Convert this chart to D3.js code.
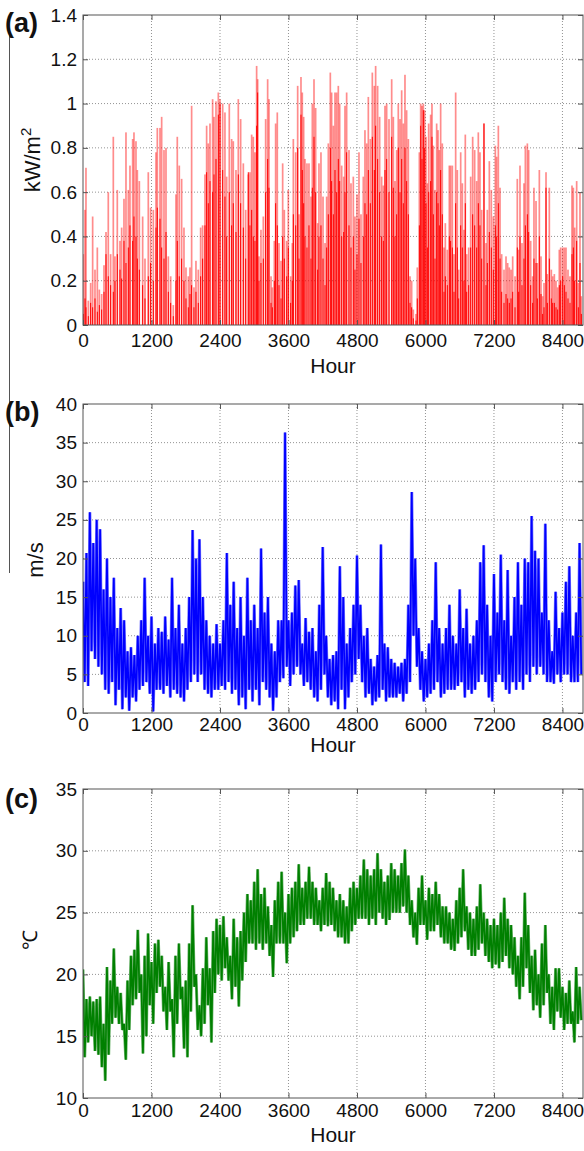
<!DOCTYPE html>
<html><head><meta charset="utf-8">
<script src="https://cdn.jsdelivr.net/npm/d3@7"></script>
<style>body{margin:0;background:#fff}svg{display:block}</style>
</head><body>
<svg id="chart" width="584" height="1151"></svg>
<script>
// ---------------- data ----------------
const xTicks = [0, 1200, 2400, 3600, 4800, 6000, 7200, 8400];
const solarTicks = [0, 0.2, 0.4, 0.6, 0.8, 1, 1.2, 1.4];
const windTicks = [0, 5, 10, 15, 20, 25, 30, 35, 40];
const tempTicks = [10, 15, 20, 25, 30, 35];

// (a) solar irradiance: hour of each daily spike, highest scenario (light) and typical (dark)
const solarHour = [5,35,52,93,134,169,210,251,286,327,368,403,443,484,531,560,601,648,677,718,753,794,823,870,893,928,952,987,1045,1086,1144,1185,1232,1279,1302,1349,1378,1419,1454,1495,1536,1582,1629,1652,1687,1728,1769,1804,1845,1874,1903,1944,1979,2020,2061,2096,2137,2166,2195,2225,2271,2295,2330,2371,2400,2447,2487,2517,2563,2604,2633,2680,2721,2762,2809,2850,2896,
 2925,2955,2984,3013,3042,3060,3083,3118,3159,3200,3235,3258,3294,3317,3352,3375,3404,3434,3469,3498,3527,3568,3597,3638,3667,3685,3726,3761,3784,3819,3842,3866,3889,3924,3959,3994,4018,4047,4076,4111,4134,4169,4205,4240,4269,4298,4333,4356,4386,4415,4444,4473,4497,4532,4567,4590,4619,4660,4695,4736,4765,4800,4835,4870,4911,4940,4970,4999,5034,5069,5104,5127,5162,5197,5232,5262,5291,5320,5361,5408,5437,5466,5495,5524,5554,5583,5612,5641,5670,5700,5729,5758,5787,
 5834,5857,5893,5916,5939,5963,5986,6009,6033,6056,6091,6114,6138,6167,6196,6220,6243,6266,6295,6325,6348,6383,6418,6441,6471,6500,6529,6558,6582,6617,6646,6675,6698,6722,6757,6792,6827,6862,6897,6926,6955,6985,7025,7061,7084,7119,7154,7189,7224,7247,7277,7306,7335,7376,7411,7440,7469,7499,7528,7569,7609,7633,7656,7691,7726,7750,7785,7808,7843,7878,7901,7937,7960,7995,8024,8053,8077,8112,8135,8170,8205,8229,8258,8287,8316,8345,8369,8404,8433,8462,8497,8532,8567,8591,8614,8649,8678,8707,8731];
const solarMax = [0.32,0.52,0.71,0.11,0.19,0.49,0.25,0.35,0.16,0.14,0.27,0.42,0.60,0.32,0.85,0.31,0.61,0.38,0.44,0.57,0.87,0.61,0.72,0.84,0.87,0.83,0.70,0.65,0.49,0.30,0.69,0.53,0.52,0.78,0.89,0.89,0.94,0.79,0.80,0.31,0.22,0.09,0.59,0.85,0.72,0.66,0.44,0.26,0.22,0.26,0.99,0.17,0.29,0.25,0.44,0.45,0.68,0.90,0.82,0.91,1.02,0.94,1.01,1.05,1.02,1.0,0.96,0.67,1.0,0.84,0.83,0.70,1.02,0.93,0.73,0.52,0.68,
 0.69,0.86,0.85,0.78,1.17,1.11,0.31,0.43,0.49,0.93,1.11,1.02,0.22,0.17,0.38,0.91,0.96,0.37,0.29,0.73,0.52,0.38,0.61,0.22,0.37,0.84,0.78,1.08,0.50,1.12,1.05,0.94,0.75,0.73,0.73,0.58,1.0,1.11,0.98,0.46,0.73,0.78,0.58,0.37,0.58,0.82,1.14,1.05,0.90,1.05,1.05,1.08,1.0,0.72,0.67,0.99,1.05,0.79,0.64,0.67,0.49,0.59,0.78,0.50,0.67,0.88,0.82,1.03,0.84,1.14,1.08,1.17,1.08,0.94,0.67,0.63,0.99,1.0,0.93,1.11,0.94,0.65,0.79,1.0,0.93,1.06,0.91,1.13,0.97,0.84,0.22,0.20,0.07,
 0.05,0.26,0.78,1.0,0.99,1.0,0.97,0.85,0.64,0.91,0.95,1.0,0.81,0.61,0.91,0.88,0.79,1.0,0.82,0.35,0.46,0.34,0.72,0.72,0.72,0.32,1.05,0.70,0.25,0.78,0.64,0.43,0.86,0.32,0.35,0.67,0.85,0.79,0.65,0.87,0.78,0.52,0.91,0.37,0.52,0.74,0.61,0.49,0.81,0.76,0.90,0.62,0.32,0.25,0.31,0.28,0.26,0.25,0.31,0.22,0.66,0.34,0.72,0.37,0.64,0.81,0.82,0.79,0.38,0.22,0.62,0.56,0.28,0.70,0.31,0.13,0.19,0.69,0.23,0.62,0.25,0.22,0.23,0.20,0.17,0.34,0.35,0.35,0.35,0.35,0.25,0.22,0.63,0.62,0.44,0.65,0.19,0.60,0.13];
const solarTyp = [0.05,0.12,0.08,0.04,0.10,0.08,0.12,0.06,0.09,0.07,0.15,0.32,0.22,0.18,0.15,0.20,0.32,0.25,0.21,0.38,0.28,0.35,0.45,0.38,0.49,0.40,0.30,0.25,0.18,0.12,0.22,0.28,0.20,0.44,0.53,0.48,0.35,0.30,0.42,0.15,0.10,0.04,0.20,0.38,0.22,0.30,0.20,0.12,0.08,0.14,0.18,0.08,0.15,0.10,0.22,0.30,0.45,0.69,0.55,0.65,0.60,0.68,0.75,0.95,1.0,0.70,0.58,0.40,0.60,0.45,0.55,0.42,0.68,0.55,0.44,0.30,0.69,
 0.45,0.52,0.40,0.38,0.90,1.05,0.20,0.28,0.30,0.60,0.75,0.62,0.10,0.08,0.20,0.55,0.45,0.18,0.12,0.40,0.30,0.22,0.35,0.10,0.20,0.50,0.45,0.80,0.30,0.95,0.70,0.55,0.40,0.35,0.45,0.30,0.62,0.85,0.60,0.25,0.40,0.45,0.30,0.18,0.35,0.50,0.80,0.65,0.50,0.70,0.60,0.75,0.65,0.40,0.42,0.60,0.78,0.45,0.35,0.40,0.25,0.32,0.48,0.28,0.40,0.55,0.50,0.70,0.55,0.85,0.70,0.90,0.75,0.60,0.40,0.38,0.70,0.75,0.60,0.85,0.62,0.40,0.50,0.80,0.60,0.75,0.55,0.80,0.65,0.50,0.10,0.08,0.03,
 0.02,0.12,0.45,0.90,0.75,0.97,0.80,0.55,0.35,0.60,0.65,0.85,0.50,0.30,0.60,0.55,0.45,0.70,0.50,0.15,0.22,0.18,0.40,0.38,0.35,0.15,0.55,0.35,0.12,0.45,0.35,0.20,0.55,0.15,0.18,0.35,0.50,0.45,0.35,0.55,0.45,0.30,0.91,0.18,0.28,0.42,0.35,0.25,0.45,0.40,0.55,0.30,0.15,0.10,0.14,0.12,0.10,0.12,0.15,0.08,0.35,0.15,0.40,0.18,0.30,0.45,0.50,0.42,0.18,0.10,0.30,0.28,0.12,0.40,0.14,0.05,0.08,0.62,0.10,0.30,0.12,0.10,0.10,0.08,0.07,0.18,0.20,0.22,0.18,0.15,0.12,0.10,0.32,0.35,0.20,0.38,0.08,0.28,0.05];

// (b) wind speed, sampled every 60 h: local high then local low
const windStep = 60;
const windHigh = [17,20.7,26,22,25,23.8,16,20,15,17.5,11,13.6,12,8,8.5,7.5,10,12,17.5,10,12.5,9,11,10.5,12.5,9.5,17.5,11,14,9,11,15,23.7,20,22.5,15,12,10,9,11.5,9,12,20.7,14,17,11,15,10,17.5,12,14,11,21.3,13,15,9,8,12,12,36.3,12,13,16.5,17.2,9,12.3,10.5,11,8,14,21.5,10,7,7.5,8,19,15,9,11,14,20.4,14,10,11,7,6,7.5,21.8,9,8.5,7,6.5,6,6.5,7,14,28.6,20,11,8,7,9,12,19.5,11,9,11,14,10,9,16,11,13.5,9,10,12,19.5,21.7,14,10,18,13,20.5,12,18.5,10,15,19.5,14,20,19.5,25.5,21,20,13,24.5,12,8,15.7,11,13,17,19,10,13,22];
const windLow = [4,3.5,8,7,6,5,3,2.5,4,1,3,0.5,2,0.3,2,1.5,3,3.5,4,2.5,0.2,3,3,2.5,3.5,2,3,2.5,2,1.5,3,4,5,4,5,3,2.5,2,3,3,3.5,3,4,2.5,3,1,2,0.5,3,1.5,3,1,4,3,2,0.3,2,4,4.5,6,3.5,5,6,5,3.5,4,3,2,1.5,3,5,2,1,1.5,0.5,3,0.5,2,4,5,7,4,2,2.5,1,1.5,2,3,1.5,2,2,2,2.5,1.5,2.5,4,10,6,3,1.5,2,2.5,3,4,2,2.5,3,3,3,3.5,4,2,3,2.5,3,4,5,4,2,1.5,4,5,4,3,2.5,4,3,4,3,5,4,6,5,6,5,4,4,3.8,5,4,5,5,4,4,4,5];

// (c) temperature, sampled every 60 h: local high then local low
const tempStep = 60;
const tempHigh = [20.4,18,18.2,17.8,18,18.2,16,20.6,19.5,22.1,19,18.5,16,19.5,21.5,22,23.6,20,21.5,23.3,21,22.5,22.8,21.5,19,21,18,21.5,22.5,19,19.5,22.5,25.6,20,17.5,20.5,23,20.5,23.5,24.5,24,24.7,23,21.5,24.5,23,23.5,25,26.5,26,27.5,28.5,26.5,27,25.5,24,26,27.5,28.3,25,26.5,27,27.5,28.9,27,27.5,28.7,27.5,27,26,27,28.2,27.5,27,26,26.5,26,25.5,27,27.5,27,28,29.3,28.5,28,28.5,29.8,28.5,27.5,28,29,28.5,28,29,30.1,28,26,25,27,28,26,27,26.5,27.5,26.5,25.5,25.5,25,24.5,26,27,28.5,25.5,25,24.5,25.5,27.3,25,24.5,24,24.5,24,25,26.2,24.5,24,23,21.5,23,26.6,24,21.5,22,20,22.5,24,20,19,20.5,20.5,19,18.5,19.5,17,20.6,19];
const tempLow = [13.3,14.5,15,13.8,13.5,12.5,11.4,13.5,16,16.5,16,15.5,13.1,15.5,17.5,18,18.5,13.6,15,17.5,16,18.5,19,17,15.5,17,13.3,16,18,14,13.3,17,19,15.5,15,16,17.5,14.5,18.5,20,19.5,20.5,19.5,18,19,17.4,19.5,21,22.5,22.5,22,22.5,22,22.5,21.5,19.8,22.5,22.5,22.5,20.9,22.5,23,23.5,24,24,24.5,24.5,24,24,23.5,24,23.9,24,23.5,23,23,22.5,22.5,23.5,24,24.5,24.5,24.5,24,24.5,24,25,24.5,24,24.4,25,25,25,25.5,25,24,23,22.4,24,24,22.8,23.5,23.5,24,23,22.5,22.5,22,21.9,22.5,23,23.5,22,21.5,21.5,22,22.5,21.5,21,20.5,20.8,20.5,21,21.5,20.5,20,19,18,19,20.5,18.5,17.1,17.5,16.5,17.5,18.5,16,15.5,17,16.5,15.5,16,16,14.5,16,16.3];

// ---------------- drawing ----------------
const svg = d3.select('#chart');
const FONT = '"Liberation Sans", Arial, Helvetica, sans-serif';
const plotLeft = 83, plotRight = 583;
const x = d3.scaleLinear().domain([0, 8760]).range([plotLeft, plotRight]);

// stray vertical rule on the far left of the figure
svg.append('line').attr('x1', 9.5).attr('x2', 9.5).attr('y1', 33).attr('y2', 573)
  .attr('stroke', '#555').attr('stroke-width', 1);

function zigzag(high, low, step) {
  const pts = [];
  high.forEach((v, i) => { pts.push([i * step, v]); pts.push([i * step + step / 2, low[i]]); });
  return pts;
}

const panels = [
  { key: 'a', top: 15, bottom: 325, domain: [0, 1.4], ticks: solarTicks, tickBase: 347, hourBase: 373,
    ylab: { x: 40, y: 160 }, letterY: 32,
    draw(g, y) {
      const bw = 1.7;
      g.selectAll('rect.max').data(solarHour).join('rect')
        .attr('x', (d) => x(d) - bw / 2).attr('width', bw)
        .attr('y', (d, i) => y(solarMax[i])).attr('height', (d, i) => y(0) - y(solarMax[i]))
        .attr('fill', '#ff0000').attr('fill-opacity', 0.45);
      g.selectAll('rect.typ').data(solarHour).join('rect')
        .attr('x', (d) => x(d) - 0.5).attr('width', 1.0)
        .attr('y', (d, i) => y(solarTyp[i])).attr('height', (d, i) => y(0) - y(solarTyp[i]))
        .attr('fill', '#ff0000');
    } },
  { key: 'b', top: 404, bottom: 713, domain: [0, 40], ticks: windTicks, tickBase: 731, hourBase: 752,
    ylab: { x: 43, y: 560 }, letterY: 421,
    draw(g, y) {
      const line = d3.line().x((d) => x(d[0])).y((d) => y(d[1]));
      const pts = zigzag(windHigh, windLow, windStep);
      g.append('path').attr('d', line(pts)).attr('fill', 'none').attr('stroke', '#7a7aff').attr('stroke-width', 3);
      g.append('path').attr('d', line(pts)).attr('fill', 'none').attr('stroke', '#0000ff').attr('stroke-width', 1.7);
    } },
  { key: 'c', top: 789, bottom: 1098, domain: [10, 35], ticks: tempTicks, tickBase: 1117, hourBase: 1142,
    ylab: { x: 37, y: 940 }, letterY: 808,
    draw(g, y) {
      const line = d3.line().x((d) => x(d[0])).y((d) => y(d[1]));
      const pts = zigzag(tempHigh, tempLow, tempStep);
      g.append('path').attr('d', line(pts)).attr('fill', 'none').attr('stroke', '#6fb56f').attr('stroke-width', 3);
      g.append('path').attr('d', line(pts)).attr('fill', 'none').attr('stroke', '#008000').attr('stroke-width', 1.7);
    } }
];

panels.forEach((p) => {
  const y = d3.scaleLinear().domain(p.domain).range([p.bottom, p.top]);
  const g = svg.append('g');

  // grid
  g.append('g').selectAll('line').data(xTicks.filter((t) => t > 0)).join('line')
    .attr('x1', (d) => x(d)).attr('x2', (d) => x(d)).attr('y1', p.top).attr('y2', p.bottom)
    .attr('stroke', '#777').attr('stroke-width', 0.8).attr('stroke-dasharray', '1,2');
  g.append('g').selectAll('line').data(p.ticks.filter((t) => t > p.domain[0] && t < p.domain[1])).join('line')
    .attr('x1', plotLeft).attr('x2', plotRight).attr('y1', (d) => y(d)).attr('y2', (d) => y(d))
    .attr('stroke', '#777').attr('stroke-width', 0.8).attr('stroke-dasharray', '1,2');

  // data
  const clipId = 'clip-' + p.key;
  svg.append('clipPath').attr('id', clipId).append('rect')
    .attr('x', plotLeft).attr('y', p.top).attr('width', plotRight - plotLeft).attr('height', p.bottom - p.top);
  const dg = g.append('g').attr('clip-path', `url(#${clipId})`);
  p.draw(dg, y);

  // axes (ticks inside, MATLAB style)
  const axColor = '#555';
  const bottomAx = g.append('g').attr('transform', `translate(0,${p.bottom})`)
    .call(d3.axisBottom(x).tickValues(xTicks).tickSizeInner(-5).tickSizeOuter(0).tickFormat(d3.format('d')));
  bottomAx.selectAll('text').attr('y', p.tickBase - p.bottom).attr('dy', 0);
  g.append('g').attr('transform', `translate(${plotLeft},0)`)
    .call(d3.axisLeft(y).tickValues(p.ticks).tickSizeInner(-5).tickSizeOuter(0).tickPadding(6).tickFormat((d) => String(d)));
  g.append('g').attr('transform', `translate(0,${p.top})`)
    .call(d3.axisTop(x).tickValues(xTicks).tickSizeInner(-5).tickSizeOuter(0).tickFormat(''));
  g.append('g').attr('transform', `translate(${plotRight},0)`)
    .call(d3.axisRight(y).tickValues(p.ticks).tickSizeInner(-5).tickSizeOuter(0).tickFormat(''));
  g.selectAll('.domain').remove();
  g.selectAll('.tick line').attr('stroke', axColor);
  g.selectAll('.tick text').attr('font-family', FONT).attr('font-size', 19).attr('fill', '#111');

  g.append('rect').attr('x', plotLeft).attr('y', p.top).attr('width', plotRight - plotLeft).attr('height', p.bottom - p.top)
    .attr('fill', 'none').attr('stroke', axColor).attr('stroke-width', 1);

  // x label
  g.append('text').attr('x', (plotLeft + plotRight) / 2).attr('y', p.hourBase).attr('text-anchor', 'middle')
    .attr('font-family', FONT).attr('font-size', 21).attr('fill', '#111').text('Hour');

  // panel letter
  g.append('text').attr('x', 5).attr('y', p.letterY).attr('font-family', FONT).attr('font-weight', 'bold')
    .attr('font-size', 27).attr('fill', '#111').text(`(${p.key})`);

  // y label
  const yl = g.append('text').attr('transform', `translate(${p.ylab.x},${p.ylab.y}) rotate(-90)`)
    .attr('text-anchor', 'middle').attr('font-family', FONT).attr('font-size', 22).attr('fill', '#111');
  if (p.key === 'a') {
    yl.append('tspan').text('kW/m');
    yl.append('tspan').attr('font-size', 15).attr('dy', -9).text('2');
  } else if (p.key === 'b') {
    yl.text('m/s');
  } else {
    yl.attr('font-size', 20).text('℃');
  }
});
</script>
</body></html>
